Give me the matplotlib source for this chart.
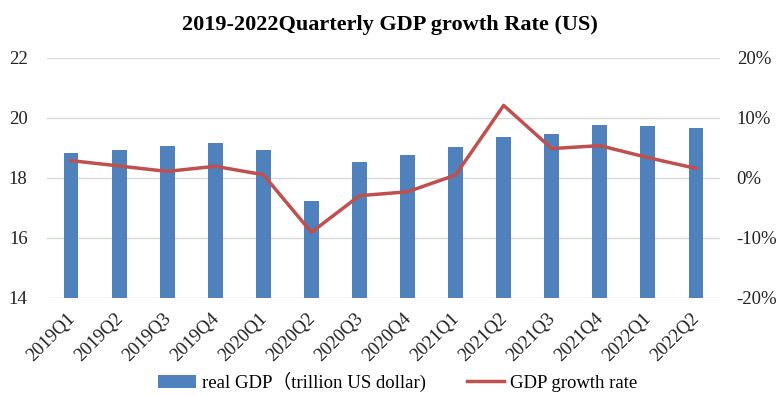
import matplotlib.pyplot as plt
import matplotlib.transforms as mtransforms
from matplotlib.ticker import FuncFormatter

quarters = ["2019Q1", "2019Q2", "2019Q3", "2019Q4", "2020Q1", "2020Q2", "2020Q3",
            "2020Q4", "2021Q1", "2021Q2", "2021Q3", "2021Q4", "2022Q1", "2022Q2"]
real_gdp = [18.82, 18.95, 19.08, 19.17, 18.92, 17.23, 18.53,
            18.76, 19.03, 19.37, 19.47, 19.78, 19.72, 19.67]
growth_rate = [2.9, 2.0, 1.1, 1.95, 0.55, -9.05, -2.95,
               -2.3, 0.5, 12.1, 4.9, 5.4, 3.4, 1.6]

plt.rcParams['font.family'] = ['Liberation Serif', 'Noto Sans CJK SC', 'DejaVu Sans']

fig = plt.figure(figsize=(7.8, 3.96), dpi=100)
ax = fig.add_axes([47/780, 1 - 298/396, (720 - 47)/780, (298 - 58)/396])
ax2 = ax.twinx()

x = list(range(len(quarters)))
bars = ax.bar(x, real_gdp, width=0.31, color='#4f81bd', zorder=3,
              label='real GDP（trillion US dollar)')
line, = ax2.plot(x, growth_rate, color='#c0504d', linewidth=2.5, zorder=4,
                 label='GDP growth rate')

ax.set_ylim(14, 22)
ax.set_yticks([14, 16, 18, 20, 22])
ax2.set_ylim(-20, 20)
ax2.set_yticks([-20, -10, 0, 10, 20])
ax2.yaxis.set_major_formatter(FuncFormatter(lambda v, p: f"{int(v)}%"))
ax.set_xlim(-0.5, len(quarters) - 0.5)

ax.grid(axis='y', color='#d9d9d9', linewidth=1, zorder=0)
ax.set_axisbelow(True)
for a in (ax, ax2):
    for s in a.spines.values():
        s.set_visible(False)
    a.tick_params(length=0, labelsize=13.5, colors='#222222')
ax.tick_params(axis='y', pad=14)
ax2.tick_params(axis='y', pad=12)

ax.set_xticks(x)
ax.set_xticklabels(quarters, rotation=45, ha='right', rotation_mode='anchor', fontsize=13.5)
offset = mtransforms.ScaledTranslation(-5/100, -7/100, fig.dpi_scale_trans)
for lbl in ax.get_xticklabels():
    lbl.set_transform(lbl.get_transform() + offset)

fig.text(0.5, 0.938, "2019-2022Quarterly GDP growth Rate (US)", ha='center', va='center',
         fontsize=16, fontweight='bold')

fig.legend(handles=[bars, line], loc='center', bbox_to_anchor=(0.51, 0.036), ncol=2,
           frameon=False, fontsize=13.5, handlelength=2.0, columnspacing=2.2,
           handletextpad=0.3, borderpad=0.1)

fig.savefig('out.png', dpi=100)
